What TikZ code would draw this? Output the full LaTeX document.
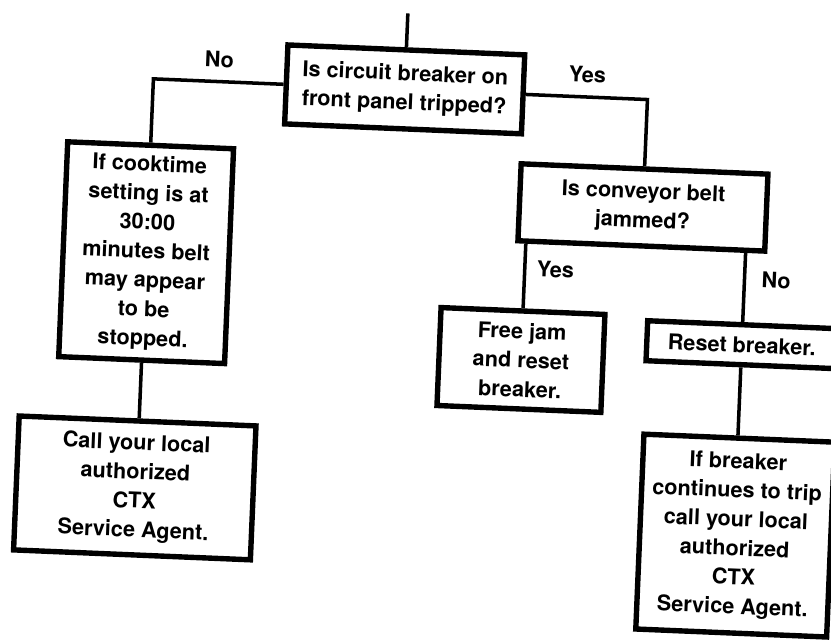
\documentclass[tikz,border=0pt]{standalone}
\usepackage{fontspec}
\setmainfont{TeX Gyre Heros}
\usepackage{tikz}

\tikzset{
  stepbox/.style={draw, rectangle, line width=4.6pt, align=center, inner sep=2pt,
    font=\fontsize{18.5}{24.8}\selectfont\bfseries},
  link/.style={line width=3pt},
  answer/.style={inner sep=2pt, font=\fontsize{18.5}{22}\selectfont\bfseries}
}

\begin{document}
\begin{tikzpicture}[x=0.03cm, y=-0.03cm]
\useasboundingbox (0,0) rectangle (831,643);
\begin{scope}[rotate around={-2.4:(415,321)}, transform shape]
\coordinate (feed) at (395,14);
\node[stepbox, minimum width=7.11cm, minimum height=2.37cm] (trip) at (395,90) {Is circuit breaker on\\front panel tripped?};
\node[stepbox, minimum width=4.98cm, minimum height=6.45cm] (cook) at (143.5,264) {If cooktime\\setting is at\\30:00\\minutes belt\\may appear\\to be\\stopped.};
\node[stepbox, minimum width=7.11cm, minimum height=4.02cm] (call) at (142,499.5) {Call your local\\authorized\\CTX\\Service Agent.};
\node[stepbox, minimum width=7.41cm, minimum height=2.31cm] (belt) at (638,198) {Is conveyor belt\\jammed?};
\node[stepbox, minimum width=4.92cm, minimum height=2.94cm] (jam) at (522.5,355.5) {Free jam\\and reset\\breaker.};
\node[stepbox, minimum width=5.7cm, minimum height=1.2cm] (reset) at (742.5,331) {Reset breaker.};
\node[stepbox, minimum width=5.73cm, minimum height=5.85cm] (agent) at (744,522) {If breaker\\continues to trip\\call your local\\authorized\\CTX\\Service Agent.};

\draw[link] (feed) -- (trip.north);
\draw[link] (trip.west) -| (cook.north) node[answer, pos=0.25, above=0.3cm] {No};
\draw[link] (trip.east) -| (belt.north) node[answer, pos=0.25, above=0.3cm] {Yes};
\draw[link] (cook.south) -- (cook.south |- call.north);
\draw[link] (jam.north |- belt.south) -- (jam.north) node[answer, pos=0.38, right=0.24cm] {Yes};
\draw[link] (reset.north |- belt.south) -- (reset.north) node[answer, pos=0.38, right=0.39cm] {No};
\draw[link] (reset.south) -- (reset.south |- agent.north);
\end{scope}
\end{tikzpicture}
\end{document}
